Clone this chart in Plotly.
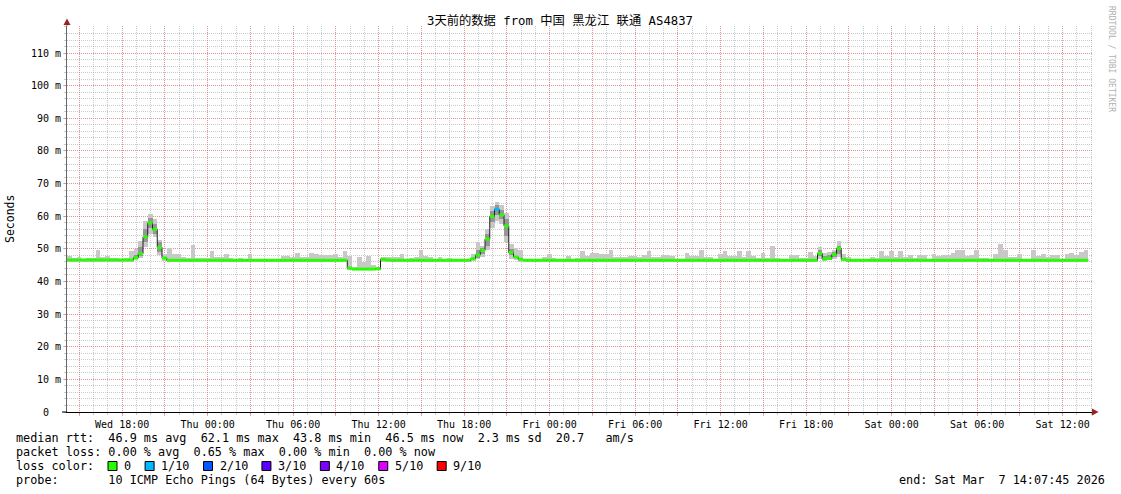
import pandas as pd
import plotly.graph_objects as go

# ---------------- data ----------------
title_text = "3天前的数据 from 中国 黑龙江 联通 AS4837"
start_time = "2026-03-04 14:07:45"
end_time = "2026-03-07 14:07:45"
bin_minutes = 20

median_rtt = [
    46.6, 46.6, 46.6, 46.6, 46.6, 46.6, 46.6, 46.6, 46.6, 46.6, 46.6, 46.6,
    46.6, 46.6, 47.3, 48.5, 53.7, 57.9, 56.0, 50.5, 47.2, 46.5, 46.5, 46.5,
    46.5, 46.5, 46.5, 46.5, 46.5, 46.5, 46.5, 46.5, 46.5, 46.5, 46.5, 46.5,
    46.5, 46.5, 46.5, 46.5, 46.5, 46.5, 46.5, 46.5, 46.5, 46.5, 46.5, 46.5,
    46.5, 46.5, 46.5, 46.5, 46.5, 46.5, 46.5, 46.5, 46.5, 46.5, 46.5, 44.1,
    43.8, 43.8, 43.8, 43.8, 43.8, 43.9, 46.8, 46.6, 46.5, 46.5, 46.5, 46.5,
    46.5, 46.5, 46.5, 46.5, 46.5, 46.5, 46.5, 46.5, 46.5, 46.5, 46.5, 46.5,
    46.5, 47.0, 48.1, 49.5, 53.0, 59.9, 62.1, 60.4, 57.0, 48.9, 47.5, 46.8,
    46.5, 46.5, 46.5, 46.5, 46.5, 46.5, 46.5, 46.5, 46.5, 46.5, 46.5, 46.5,
    46.5, 46.5, 46.5, 46.5, 46.5, 46.5, 46.5, 46.5, 46.5, 46.5, 46.5, 46.5,
    46.5, 46.5, 46.5, 46.5, 46.5, 46.5, 46.5, 46.5, 46.5, 46.5, 46.5, 46.5,
    46.5, 46.5, 46.5, 46.5, 46.5, 46.5, 46.5, 46.5, 46.5, 46.5, 46.5, 46.5,
    46.5, 46.5, 46.5, 46.5, 46.5, 46.5, 46.5, 46.5, 46.5, 46.5, 46.5, 46.5,
    46.5, 46.5, 48.6, 46.9, 47.1, 48.3, 50.1, 46.8, 46.5, 46.5, 46.5, 46.5,
    46.5, 46.5, 46.5, 46.5, 46.5, 46.5, 46.5, 46.5, 46.5, 46.5, 46.5, 46.5,
    46.5, 46.5, 46.5, 46.5, 46.5, 46.5, 46.5, 46.5, 46.5, 46.5, 46.5, 46.5,
    46.5, 46.5, 46.5, 46.5, 46.5, 46.5, 46.5, 46.5, 46.5, 46.5, 46.5, 46.5,
    46.5, 46.5, 46.5, 46.5, 46.5, 46.5, 46.5, 46.5, 46.5, 46.5, 46.5,
]

smoke_max = [
    47.8, 47.3, 47.6, 47.0, 47.3, 47.3, 49.6, 47.6, 47.8, 47.3, 47.3, 47.0,
    47.3, 49.3, 50.0, 52.5, 58.5, 60.7, 59.0, 52.7, 48.5, 50.3, 48.3, 48.3,
    47.6, 47.3, 51.2, 47.3, 47.3, 47.3, 49.3, 47.6, 47.6, 48.4, 47.3, 47.0,
    47.3, 47.0, 48.3, 47.0, 47.0, 47.0, 46.9, 47.0, 47.0, 47.8, 47.8, 47.5,
    48.6, 47.6, 47.6, 48.6, 48.3, 48.0, 48.0, 48.0, 48.3, 47.6, 49.3, 47.8,
    44.5, 47.6, 46.0, 47.9, 45.0, 44.5, 47.6, 47.6, 47.6, 47.6, 48.4, 47.0,
    47.3, 47.6, 49.8, 47.8, 47.6, 47.0, 47.6, 47.0, 47.3, 47.0, 46.8, 46.8,
    46.8, 48.5, 52.2, 51.0, 56.0, 63.0, 64.4, 63.5, 61.0, 51.5, 50.2, 49.8,
    47.0, 47.0, 47.0, 47.0, 47.6, 48.3, 47.3, 47.0, 47.0, 47.8, 47.0, 47.3,
    49.3, 47.8, 48.7, 48.7, 48.3, 48.3, 49.6, 47.6, 47.6, 47.6, 47.8, 47.8,
    47.6, 48.0, 49.3, 47.6, 47.6, 48.0, 48.0, 47.8, 47.0, 47.0, 48.8, 47.8,
    47.8, 49.8, 47.6, 47.6, 46.6, 48.3, 49.3, 47.8, 47.8, 49.3, 47.6, 49.3,
    47.8, 47.3, 48.8, 47.3, 50.9, 47.3, 47.0, 47.0, 48.0, 48.0, 47.3, 47.3,
    49.0, 47.8, 50.5, 48.8, 49.0, 49.8, 52.5, 48.3, 47.6, 47.0, 46.8, 46.8,
    46.8, 47.6, 47.3, 49.3, 47.8, 49.3, 47.6, 49.3, 47.6, 48.0, 47.3, 48.0,
    48.0, 47.0, 48.3, 47.8, 48.0, 48.0, 48.8, 49.6, 49.6, 47.8, 48.0, 49.8,
    47.3, 47.3, 47.0, 48.3, 51.6, 49.8, 47.6, 47.6, 48.3, 47.0, 47.0, 49.8,
    47.8, 48.3, 47.6, 48.0, 48.0, 47.0, 48.3, 48.8, 48.0, 49.0, 49.8,
]

smoke_min = [
    46.0, 46.0, 46.0, 46.0, 46.0, 46.0, 46.0, 46.0, 46.0, 46.0, 46.0, 46.0,
    46.0, 46.0, 46.6, 47.3, 50.5, 54.5, 53.5, 48.0, 46.3, 46.0, 46.0, 46.0,
    46.0, 46.0, 46.0, 46.0, 46.0, 46.0, 46.0, 46.0, 46.0, 46.0, 46.0, 46.0,
    46.0, 46.0, 46.0, 46.0, 46.0, 46.0, 46.0, 46.0, 46.0, 46.0, 46.0, 46.0,
    46.0, 46.0, 46.0, 46.0, 46.0, 46.0, 46.0, 46.0, 46.0, 46.0, 46.0, 43.4,
    43.4, 43.4, 43.4, 43.4, 43.4, 43.4, 46.0, 46.0, 46.0, 46.0, 46.0, 46.0,
    46.0, 46.0, 46.0, 46.0, 46.0, 46.0, 46.0, 46.0, 46.0, 46.0, 46.0, 46.0,
    46.0, 46.3, 46.8, 47.5, 49.5, 56.5, 58.5, 57.5, 52.0, 47.0, 46.5, 46.0,
    46.0, 46.0, 46.0, 46.0, 46.0, 46.0, 46.0, 46.0, 46.0, 46.0, 46.0, 46.0,
    46.0, 46.0, 46.0, 46.0, 46.0, 46.0, 46.0, 46.0, 46.0, 46.0, 46.0, 46.0,
    46.0, 46.0, 46.0, 46.0, 46.0, 46.0, 46.0, 46.0, 46.0, 46.0, 46.0, 46.0,
    46.0, 46.0, 46.0, 46.0, 46.0, 46.0, 46.0, 46.0, 46.0, 46.0, 46.0, 46.0,
    46.0, 46.0, 46.0, 46.0, 46.0, 46.0, 46.0, 46.0, 46.0, 46.0, 46.0, 46.0,
    46.0, 46.0, 46.8, 46.3, 46.5, 47.0, 47.5, 46.2, 46.0, 46.0, 46.0, 46.0,
    46.0, 46.0, 46.0, 46.0, 46.0, 46.0, 46.0, 46.0, 46.0, 46.0, 46.0, 46.0,
    46.0, 46.0, 46.0, 46.0, 46.0, 46.0, 46.0, 46.0, 46.0, 46.0, 46.0, 46.0,
    46.0, 46.0, 46.0, 46.0, 46.0, 46.0, 46.0, 46.0, 46.0, 46.0, 46.0, 46.0,
    46.0, 46.0, 46.0, 46.0, 46.0, 46.0, 46.0, 46.0, 46.0, 46.0, 46.0,
]

# darker inner smoke (pings closest to the median) where the spread is wide
core_bins = [14, 15, 16, 17, 18, 19,
             86, 87, 88, 89, 90, 91, 92, 93,
             158, 159, 160, 161, 162]
core_lo = [46.8, 47.8, 52.0, 56.5, 54.5, 49.0,
           47.3, 48.5, 51.0, 58.3, 60.5, 59.0, 54.0, 48.0,
           47.8, 46.5, 46.7, 47.6, 48.5]
core_hi = [48.2, 50.5, 56.0, 59.5, 57.5, 52.0,
           49.5, 50.3, 54.5, 61.5, 63.3, 62.0, 59.0, 50.0,
           49.6, 47.8, 48.0, 49.0, 51.0]

# bins with packet loss (index -> loss class)
loss_bins = [90]
loss_classes = ["1/10"]

loss_labels = ["0", "1/10", "2/10", "3/10", "4/10", "5/10", "9/10"]
loss_colors = ["#26ff00", "#00b8ff", "#0059ff", "#5e00ff", "#7e00ff", "#dd00ff", "#ff0000"]

y_tick_values = [0, 10, 20, 30, 40, 50, 60, 70, 80, 90, 100, 110]
y_tick_labels = ["0\u00a0\u00a0", "10 m", "20 m", "30 m", "40 m", "50 m", "60 m",
                 "70 m", "80 m", "90 m", "100 m", "110 m"]
x_label_times = ["2026-03-04 18:00", "2026-03-05 00:00", "2026-03-05 06:00", "2026-03-05 12:00",
                 "2026-03-05 18:00", "2026-03-06 00:00", "2026-03-06 06:00", "2026-03-06 12:00",
                 "2026-03-06 18:00", "2026-03-07 00:00", "2026-03-07 06:00", "2026-03-07 12:00"]
x_label_texts = ["Wed 18:00", "Thu 00:00", "Thu 06:00", "Thu 12:00", "Thu 18:00", "Fri 00:00",
                 "Fri 06:00", "Fri 12:00", "Fri 18:00", "Sat 00:00", "Sat 06:00", "Sat 12:00"]

stats_line_1 = "median rtt:  46.9 ms avg  62.1 ms max  43.8 ms min  46.5 ms now  2.3 ms sd  20.7   am/s"
stats_line_2 = "packet loss: 0.00 % avg  0.65 % max  0.00 % min  0.00 % now"
stats_line_3 = "loss color:"
stats_line_4 = "probe:       10 ICMP Echo Pings (64 Bytes) every 60s"
end_text = "end: Sat Mar  7 14:07:45 2026"
y_title = "Seconds"
watermark = "RRDTOOL / TOBI OETIKER"

# ---------------- geometry helpers (pixels -> paper) ----------------
W, H = 1121, 494
L, R, T, B = 67, 1093, 26, 412
def px(xp):
    return (xp - L) / (R - L)
def py(yp):
    return (B - yp) / (B - T)

MONO = "DejaVu Sans Mono, monospace"
TITLE_FONT = "DejaVu Sans Mono, Noto Sans CJK SC, monospace"

t0 = pd.Timestamp(start_time)
step = pd.Timedelta(minutes=bin_minutes)
n = len(median_rtt)
starts = [t0 + step * i for i in range(n)]
centers = [s + step / 2 for s in starts]

loss_of_bin = {b: c for b, c in zip(loss_bins, loss_classes)}
bin_loss = [loss_of_bin.get(i, "0") for i in range(n)]

fig = go.Figure()

# smoke (full spread)
fig.add_trace(go.Bar(
    x=centers, y=[hi - lo for hi, lo in zip(smoke_max, smoke_min)], base=smoke_min,
    width=step.total_seconds() * 1000, marker=dict(color="rgb(200,200,200)", line=dict(width=0)),
    hoverinfo="skip", showlegend=False))

# smoke (inner, darker)
fig.add_trace(go.Bar(
    x=[centers[i] for i in core_bins], y=[hi - lo for hi, lo in zip(core_hi, core_lo)], base=core_lo,
    width=step.total_seconds() * 1000, marker=dict(color="rgb(150,150,150)", line=dict(width=0)),
    hoverinfo="skip", showlegend=False))

# black median step line
fig.add_trace(go.Scatter(
    x=starts + [starts[-1] + step], y=median_rtt + [median_rtt[-1]],
    mode="lines", line=dict(color="#202020", width=1, shape="hv"),
    hoverinfo="skip", showlegend=False))

# loss-coloured median segments
for lab, col in zip(loss_labels, loss_colors):
    xs, ys = [], []
    for i in range(n):
        if bin_loss[i] == lab:
            xs += [starts[i], starts[i] + step, None]
            ys += [median_rtt[i], median_rtt[i], None]
    if xs:
        fig.add_trace(go.Scatter(x=xs, y=ys, mode="lines",
                                 line=dict(color=col, width=3),
                                 hoverinfo="skip", showlegend=False))

major_grid = pd.date_range("2026-03-04 15:00", "2026-03-07 12:00", freq="3h")
label_map = dict(zip(pd.to_datetime(x_label_times), x_label_texts))

GRID_MAJOR = "rgba(240,80,80,0.45)"
GRID_MINOR = "rgba(150,150,150,0.5)"

fig.update_layout(
    width=W, height=H, autosize=False,
    margin=dict(l=L, r=W - R, t=T, b=H - B, pad=0),
    paper_bgcolor="white", plot_bgcolor="white",
    bargap=0, barmode="overlay", showlegend=False,
    xaxis=dict(
        type="date", range=[start_time, end_time],
        tickmode="array", tickvals=list(major_grid),
        ticktext=[label_map.get(t, "") for t in major_grid],
        showgrid=True, gridcolor=GRID_MAJOR, griddash="1px,1px", gridwidth=1,
        ticks="outside", ticklen=3, tickcolor=GRID_MAJOR,
        tickfont=dict(family=MONO, size=10, color="#000"),
        minor=dict(tickmode="linear", tick0="2026-03-04 15:00", dtick=3600000,
                   showgrid=True, gridcolor=GRID_MINOR, griddash="1px,1px", gridwidth=1,
                   ticks="outside", ticklen=2, tickcolor=GRID_MINOR),
        showline=True, linecolor="#000", linewidth=1, zeroline=False,
    ),
    yaxis=dict(
        range=[0, 118.3], tickmode="array", tickvals=y_tick_values, ticktext=y_tick_labels,
        showgrid=True, gridcolor=GRID_MAJOR, griddash="1px,1px", gridwidth=1,
        ticks="outside", ticklen=3, tickcolor=GRID_MAJOR,
        tickfont=dict(family=MONO, size=10, color="#000"),
        minor=dict(dtick=2, tick0=0, showgrid=True, gridcolor=GRID_MINOR, griddash="1px,1px",
                   gridwidth=1, ticks="outside", ticklen=2, tickcolor=GRID_MINOR),
        showline=True, linecolor="#666", linewidth=1, zeroline=False,
    ),
)

shapes = []
# axis arrows
shapes.append(dict(type="line", xref="paper", yref="paper", x0=px(67), x1=px(67),
                   y0=py(26), y1=py(22), line=dict(color="#666", width=1)))
shapes.append(dict(type="path", xref="paper", yref="paper",
                   path=f"M {px(67)} {py(18.5)} L {px(63.5)} {py(25)} L {px(70.5)} {py(25)} Z",
                   fillcolor="#9b2020", line=dict(width=0)))
shapes.append(dict(type="line", xref="paper", yref="paper", x0=px(62), x1=px(67),
                   y0=0, y1=0, line=dict(color="#000", width=1)))
shapes.append(dict(type="path", xref="paper", yref="paper",
                   path=f"M {px(1098.5)} {py(412)} L {px(1092)} {py(408.5)} L {px(1092)} {py(415.5)} Z",
                   fillcolor="#9b2020", line=dict(width=0)))

annotations = []
def nb(s):
    return s.replace(" ", "\u00a0")

annotations.append(dict(text=title_text, xref="paper", yref="paper", x=px(560), y=py(21),
                        xanchor="center", yanchor="middle", showarrow=False,
                        font=dict(family=TITLE_FONT, size=12.3, color="#000")))
annotations.append(dict(text=y_title, xref="paper", yref="paper", x=px(10), y=py(219),
                        xanchor="center", yanchor="middle", textangle=-90, showarrow=False,
                        font=dict(family=MONO, size=11.5, color="#000")))
annotations.append(dict(text=nb(watermark), xref="paper", yref="paper", x=px(1111), y=py(59),
                        xanchor="center", yanchor="middle", textangle=90, showarrow=False,
                        font=dict(family=MONO, size=8, color="#b0b0b0")))

LEG = 11.8
cw = LEG * 0.602
for txt, yy in [(stats_line_1, 438), (stats_line_2, 452), (stats_line_3, 466), (stats_line_4, 480)]:
    annotations.append(dict(text=nb(txt), xref="paper", yref="paper", x=px(14), y=py(yy),
                            xanchor="left", yanchor="middle", showarrow=False,
                            font=dict(family=MONO, size=LEG, color="#000")))
annotations.append(dict(text=nb(end_text), xref="paper", yref="paper", x=px(1107), y=py(480),
                        xanchor="right", yanchor="middle", showarrow=False,
                        font=dict(family=MONO, size=LEG, color="#000")))

# loss colour legend boxes
xpos = 108.0
for lab, col in zip(loss_labels, loss_colors):
    shapes.append(dict(type="rect", xref="paper", yref="paper",
                       x0=px(xpos), x1=px(xpos + 9), y0=py(470.5), y1=py(461.5),
                       fillcolor=col, line=dict(color="#000", width=1)))
    lx = xpos + 16
    annotations.append(dict(text=lab, xref="paper", yref="paper", x=px(lx - 2), y=py(466),
                            xanchor="left", yanchor="middle", showarrow=False,
                            font=dict(family=MONO, size=LEG, color="#000")))
    xpos = lx + len(lab) * cw + 14

fig.update_layout(shapes=shapes, annotations=annotations)
fig.write_html("out.html", config={"displayModeBar": False},
               post_script="document.body.style.margin='0';document.body.style.overflow='hidden';")
